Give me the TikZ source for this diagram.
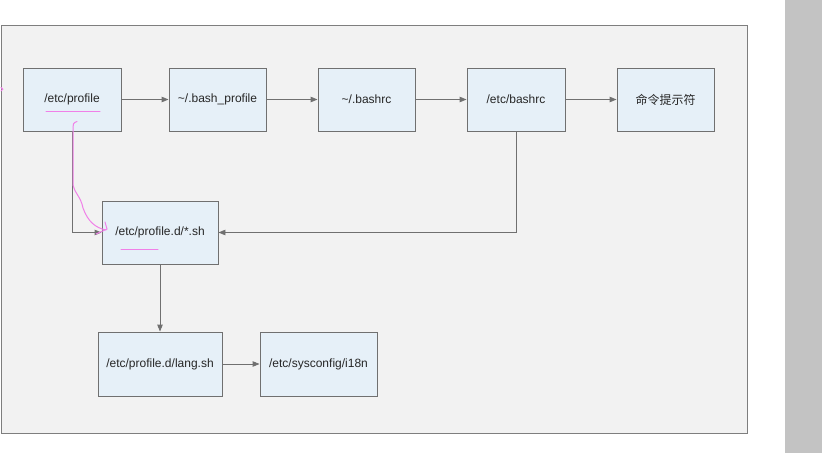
\documentclass[tikz,border=0pt]{standalone}
\usepackage{fontspec}
\setmainfont{Liberation Sans}
\newfontfamily\cjk{Noto Sans CJK SC}
\usetikzlibrary{arrows.meta}
\definecolor{panelgray}{HTML}{F2F2F2}
\definecolor{stripgray}{HTML}{C3C3C3}
\definecolor{boxblue}{HTML}{E6F0F8}
\definecolor{linegray}{HTML}{707070}
\definecolor{pen}{HTML}{F080E8}

\begin{document}
\begin{tikzpicture}[x=1pt,y=-1pt]
	\tikzstyle{file}=[draw=linegray, fill=boxblue, line width=0.9pt, minimum height=63pt, inner sep=0pt, font=\fontsize{12}{14}\selectfont, text=black!85]
	\tikzstyle{flow}=[draw=linegray, line width=0.9pt, -{Triangle[length=7pt,width=5.5pt]}]
	\tikzstyle{penline}=[draw=pen, line width=1pt, line cap=round]
	\useasboundingbox (0,0) rectangle (822,453);
	\fill [white] (0,0) rectangle (822,453);
	\fill [stripgray] (785,0) rectangle (822,453);
	\draw [draw=linegray!90, fill=panelgray, line width=0.9pt] (1.5,25) rectangle (747,433);
	\node [file, minimum width=98pt] (profile) at (72,99.5) {/etc/profile};
	\node [file, minimum width=97pt] (bashprofile) at (217.5,99.5) {\textasciitilde/.bash\_profile};
	\node [file, minimum width=97pt] (bashrc) at (366.5,99.5) {\textasciitilde/.bashrc};
	\node [file, minimum width=98pt] (etcbashrc) at (516,99.5) {/etc/bashrc};
	\node [file, minimum width=97pt] (prompt) at (665.5,99.5) {\cjk 命令提示符};
	\node [file, minimum width=116pt] (profiled) at (160,232.5) {/etc/profile.d/*.sh};
	\node [file, minimum width=124pt, minimum height=64pt] (langsh) at (160,364) {/etc/profile.d/lang.sh};
	\node [file, minimum width=117pt, minimum height=64pt] (i18n) at (318.5,364) {/etc/sysconfig/i18n};
	\draw [flow] (profile) -- (bashprofile);
	\draw [flow] (bashprofile) -- (bashrc);
	\draw [flow] (bashrc) -- (etcbashrc);
	\draw [flow] (etcbashrc) -- (prompt);
	\draw [flow] (profile.south) |- (profiled.west);
	\draw [flow] (etcbashrc.south) |- (profiled.east);
	\draw [flow] (profiled) -- (langsh);
	\draw [flow] (langsh) -- (i18n);
	\draw [penline] (46,111) -- (100,111);
	\draw [penline] (121,249) -- (158,249);
	\draw [penline] (1,91) arc (90:-90:1.8);
	\draw [penline] (77,121.5) .. controls (73,123) .. (73,132) -- (73,185) .. controls (74,192) and (81,197) .. (83,208) .. controls (88,222) and (96,228) .. (106,230);
	\draw [penline] (105,222) -- (107,229) -- (96,234);
\end{tikzpicture}
\end{document}
